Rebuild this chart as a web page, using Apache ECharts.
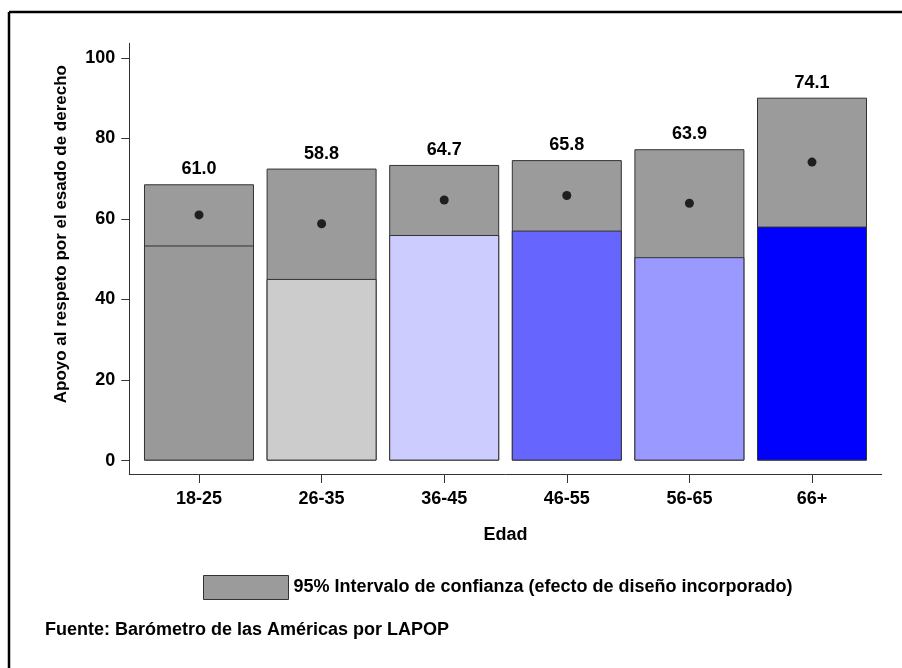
<!DOCTYPE html>
<html>
<head>
<meta charset="utf-8">
<script src="https://cdn.jsdelivr.net/npm/echarts@6/dist/echarts.min.js"></script>
<style>
  html, body { margin: 0; padding: 0; background: #fff; }
  #chart { width: 902px; height: 668px; }
</style>
</head>
<body>
<div id="chart"></div>
<script>
// ---- data ----
const categories = ['18-25', '26-35', '36-45', '46-55', '56-65', '66+'];
const means  = [61.0, 58.8, 64.7, 65.8, 63.9, 74.1];
const lowers = [53.4, 45.1, 56.0, 57.1, 50.5, 58.1];
const uppers = [68.6, 72.5, 73.4, 74.6, 77.3, 90.1];
const yTicks = [0, 20, 40, 60, 80, 100];

const xAxisTitle = 'Edad';
const yAxisTitle = 'Apoyo al respeto por el esado de derecho';
const legendLabel = '95% Intervalo de confianza (efecto de diseño incorporado)';
const sourceNote = 'Fuente: Barómetro de las Américas por LAPOP';

// ---- styling ----
const barColors = ['#999999', '#cccccc', '#ccccff', '#6666ff', '#9999ff', '#0000ff'];
const ciColor = '#9b9b9b';
const FONT = "'Liberation Sans', Arial, Helvetica, sans-serif";
const FS = 18;

const xIdx = categories.map((_, i) => i);

const chart = echarts.init(document.getElementById('chart'), null, { renderer: 'canvas' });

chart.setOption({
  backgroundColor: '#ffffff',
  animation: false,
  textStyle: { fontFamily: FONT },
  title: {
    text: sourceNote,
    left: 45,
    top: 621,
    padding: 0,
    textStyle: { fontFamily: FONT, fontSize: FS, fontWeight: 'bold', color: '#000' }
  },
  legend: {
    data: [legendLabel],
    left: 203,
    top: 575,
    padding: 0,
    icon: 'rect',
    itemWidth: 85,
    itemHeight: 24,
    itemStyle: { color: ciColor, borderColor: '#333', borderWidth: 1 },
    textStyle: { fontFamily: FONT, fontSize: FS, fontWeight: 'bold', color: '#000' },
    selectedMode: false
  },
  grid: { left: 129.3, right: 20.3, top: 43.3, bottom: 194, containLabel: false },
  xAxis: {
    type: 'value',
    min: -0.5685,
    max: 5.5685,
    splitLine: { show: false },
    axisLine: { show: true, onZero: false, lineStyle: { color: '#333', width: 1 } },
    axisTick: { show: true, length: 9, customValues: xIdx, lineStyle: { color: '#333' } },
    axisLabel: {
      customValues: xIdx,
      formatter: v => categories[Math.round(v)],
      margin: 16,
      fontFamily: FONT, fontSize: FS, fontWeight: 'bold', color: '#000'
    },
    name: xAxisTitle,
    nameLocation: 'middle',
    nameGap: 52,
    nameTextStyle: { fontFamily: FONT, fontSize: FS, fontWeight: 'bold', color: '#000' }
  },
  yAxis: {
    type: 'value',
    min: -3.33,
    max: 103.6,
    splitLine: { show: false },
    axisLine: { show: true, onZero: false, lineStyle: { color: '#333', width: 1 } },
    axisTick: { show: true, length: 8, customValues: yTicks, lineStyle: { color: '#333' } },
    axisLabel: {
      customValues: yTicks,
      margin: 14,
      fontFamily: FONT, fontSize: FS, fontWeight: 'bold', color: '#000'
    },
    name: yAxisTitle,
    nameLocation: 'middle',
    nameRotate: 90,
    nameGap: 59,
    nameTextStyle: {
      fontFamily: FONT, fontSize: 17, fontWeight: 'bold', color: '#000',
      padding: [0, 0, 0, 49]
    }
  },
  series: [
    {
      name: legendLabel,
      type: 'bar',
      barWidth: 110,
      barGap: '-100%',
      data: uppers.map((v, i) => [i, v]),
      itemStyle: { color: ciColor, borderColor: '#333', borderWidth: 1 },
      label: {
        show: true,
        position: 'top',
        distance: 6,
        formatter: p => means[p.dataIndex].toFixed(1),
        fontFamily: FONT, fontSize: FS, fontWeight: 'bold', color: '#000'
      },
      z: 2
    },
    {
      name: 'lower',
      type: 'bar',
      barWidth: 110,
      barGap: '-100%',
      data: lowers.map((v, i) => ({ value: [i, v], itemStyle: { color: barColors[i] } })),
      itemStyle: { borderColor: '#333', borderWidth: 1 },
      z: 3
    },
    {
      name: 'mean',
      type: 'scatter',
      symbol: 'circle',
      symbolSize: 9,
      data: means.map((v, i) => [i, v]),
      itemStyle: { color: '#000' },
      z: 4
    }
  ],
  graphic: [
    { type: 'line', shape: { x1: 9, y1: 12, x2: 9, y2: 668 }, style: { stroke: '#000', lineWidth: 2.5 }, silent: true },
    { type: 'line', shape: { x1: 9, y1: 12, x2: 902, y2: 12 }, style: { stroke: '#000', lineWidth: 2.5 }, silent: true }
  ]
});
</script>
</body>
</html>
